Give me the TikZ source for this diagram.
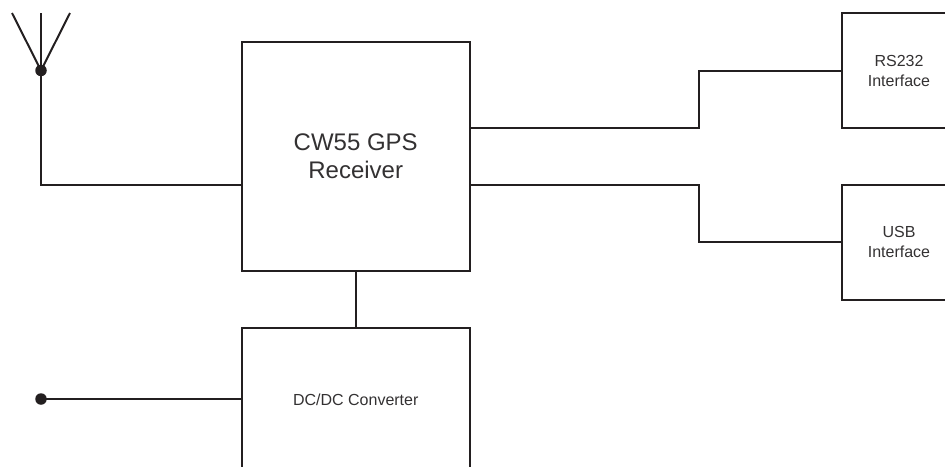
\documentclass[tikz,border=0pt]{standalone}
\usepackage{fontspec}
\setmainfont{Liberation Sans}
\definecolor{inkc}{HTML}{231F20}
\definecolor{textc}{HTML}{333132}
\tikzset{
  blockbox/.style={draw=inkc,line width=2pt,fill=none,inner sep=0pt,outer sep=0pt,align=center,text=textc,anchor=north west},
  wire/.style={draw=inkc,line width=2pt,line join=miter},
  dotnode/.style={circle,fill=inkc,draw=none,minimum size=11.5pt,inner sep=0pt,outer sep=0pt},
  smalltext/.style={font=\fontsize{16}{20}\selectfont},
}
\begin{document}
\begin{tikzpicture}[x=1pt,y=-1pt]
\useasboundingbox (0,0) rectangle (945,466);
\clip (0,0) rectangle (945,466);
\node[blockbox,minimum width=228.5pt,minimum height=229pt,font=\fontsize{24}{28}\selectfont] (gps) at (241.5,41.7) {CW55 GPS\\Receiver};
\node[blockbox,minimum width=228.5pt,minimum height=145pt,smalltext] (dc) at (241.5,327.7) {DC/DC Converter};
\node[blockbox,minimum width=114pt,minimum height=114.5pt,smalltext] (rs) at (842,13.3) {RS232\\Interface};
\node[blockbox,minimum width=114pt,minimum height=114.5pt,smalltext] (usb) at (842,185) {USB\\Interface};
\node[dotnode] (ant) at (41,70.5) {};
\node[dotnode] (pwr) at (41,399) {};
\coordinate (a1) at (12,13);
\coordinate (a2) at (41,13);
\coordinate (a3) at (70,13);
\coordinate (gin) at (241.5,185);
\coordinate (g1) at (470,127.8);
\coordinate (g2) at (470,185);
\draw[wire] (a1) -- (ant.center) -- (a3);
\draw[wire] (a2) -- (ant.center);
\draw[wire] (ant.center) |- (gin);
\draw[wire] (pwr.center) -- (pwr.center -| dc.west);
\draw[wire] (gps.south) -- (gps.south |- dc.north);
\draw[wire] (g1) -- (699.3,127.8) -- (699.3,70.7) -- (842,70.7);
\draw[wire] (g2) -- (699.3,185) -- (699.3,242) -- (842,242);
\end{tikzpicture}
\end{document}
